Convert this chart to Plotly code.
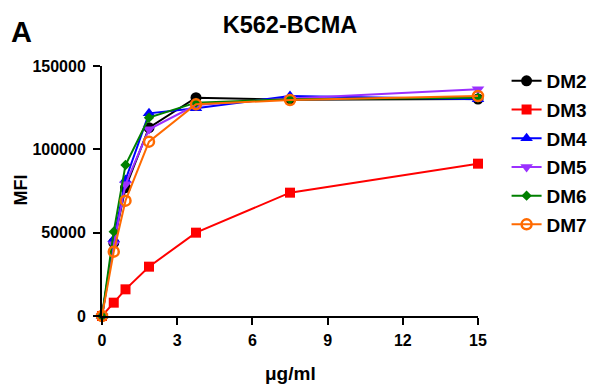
import plotly.graph_objects as go

conc = [0, 0.469, 0.938, 1.875, 3.75, 7.5, 15]
series_names = ["DM2", "DM3", "DM4", "DM5", "DM6", "DM7"]
dm2 = [0, 44000, 77000, 113000, 131000, 129800, 130200]
dm3 = [0, 8000, 16000, 29600, 50000, 74000, 91400]
dm4 = [0, 46000, 81600, 121600, 124600, 132000, 130000]
dm5 = [0, 43000, 79000, 112000, 126600, 130500, 136000]
dm6 = [0, 50600, 90600, 119000, 128000, 130000, 131000]
dm7 = [0, 38600, 69200, 104600, 127000, 129600, 132000]
values = [dm2, dm3, dm4, dm5, dm6, dm7]
x_ticks = [0, 3, 6, 9, 12, 15]
y_ticks = [0, 50000, 100000, 150000]

colors = ["#000000", "#ff0000", "#0000ff", "#9b30ff", "#008000", "#ff6a00"]
symbols = ["circle", "square", "triangle-up", "triangle-down", "diamond", "circle-open"]
sizes = [11, 10, 11, 11, 8, 10]

fig = go.Figure()
for name, vals, c, s, sz in zip(series_names, values, colors, symbols, sizes):
    fig.add_trace(go.Scatter(
        x=conc, y=vals, name="<b>" + name + "</b>", mode="lines+markers",
        legendgroup=name,
        line=dict(color=c, width=2),
        marker=dict(color=c, symbol=s, size=sz,
                    line=dict(color=c, width=2.5 if s == "circle-open" else 0)),
        cliponaxis=False,
    ))

font = "Liberation Sans, Arial, sans-serif"
W, H = 600, 390
fig.update_layout(
    width=W, height=H,
    margin=dict(l=94, r=130, t=58, b=82, autoexpand=False),
    plot_bgcolor="white", paper_bgcolor="white",
    font=dict(family=font, color="black", size=16),
    title=dict(text="<b>K562-BCMA</b>", x=282 / W, xanchor="center", y=1 - 17 / H, yanchor="middle",
               font=dict(size=23.5, family=font)),
    showlegend=True,
    legend=dict(x=1.076, y=1.016, xanchor="left", yanchor="top",
                font=dict(size=19, family=font), tracegroupgap=1,
                itemwidth=30, bgcolor="rgba(0,0,0,0)"),
    xaxis=dict(range=[0, 15], tickvals=x_ticks, ticktext=["<b>%d</b>" % v for v in x_ticks],
               showgrid=False, zeroline=False, automargin=False,
               showline=True, linecolor="black", linewidth=2, ticks="outside",
               ticklen=7, tickwidth=2, tickcolor="black", ticklabelstandoff=2,
               tickfont=dict(size=16, family=font)),
    yaxis=dict(range=[0, 150000], tickvals=y_ticks, ticktext=["<b>%d</b>" % v for v in y_ticks],
               showgrid=False, zeroline=False, automargin=False,
               showline=True, linecolor="black", linewidth=2, ticks="outside",
               ticklen=7, tickwidth=2, tickcolor="black", ticklabelstandoff=4,
               tickfont=dict(size=16, family=font)),
)
fig.add_annotation(text="<b>A</b>", xref="paper", yref="paper",
                   x=(21 - 102) / 376, y=(316 - 32) / 250,
                   xanchor="center", yanchor="middle", showarrow=False,
                   font=dict(size=29, family=font))
fig.add_annotation(text="<b>μg/ml</b>", xref="paper", yref="paper",
                   x=0.5, y=(316 - 373) / 250,
                   xanchor="center", yanchor="middle", showarrow=False,
                   font=dict(size=19, family=font))
fig.add_annotation(text="<b>MFI</b>", xref="paper", yref="paper",
                   x=(20.5 - 102) / 376, y=(316 - 190) / 250, textangle=-90,
                   xanchor="center", yanchor="middle", showarrow=False,
                   font=dict(size=18, family=font))
fig.write_html("out.html")
